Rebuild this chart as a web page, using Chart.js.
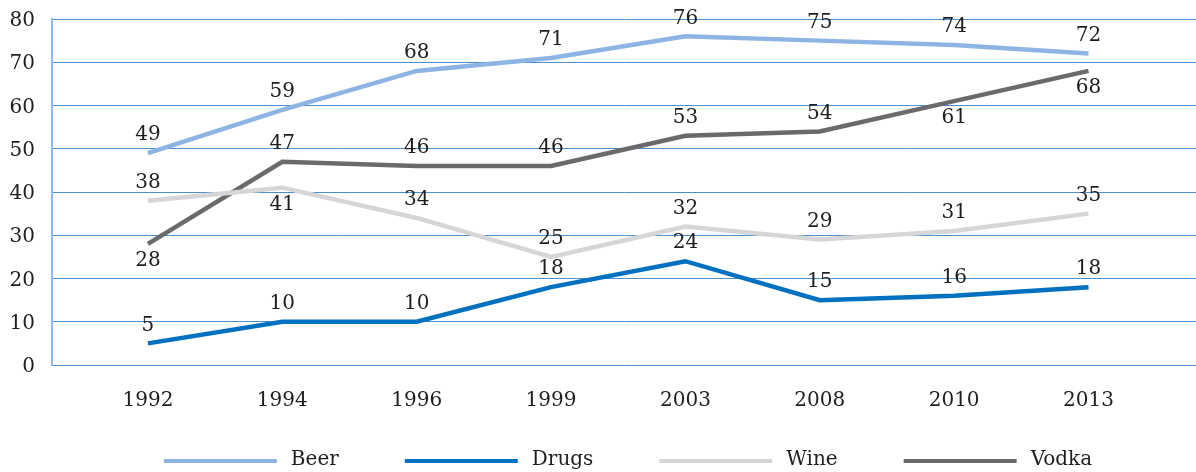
<!DOCTYPE html>
<html>
<head>
<meta charset="utf-8">
<script src="https://cdn.jsdelivr.net/npm/chart.js@4.4.1/dist/chart.umd.min.js"></script>
<style>
  html, body { margin: 0; padding: 0; background: #fff; overflow: hidden; }
  canvas { display: block; }
</style>
</head>
<body>
<canvas id="chart" width="1196" height="472"></canvas>
<script>
const years = ['1992', '1994', '1996', '1999', '2003', '2008', '2010', '2013'];
const beer = [49, 59, 68, 71, 76, 75, 74, 72];
const drugs = [5, 10, 10, 18, 24, 15, 16, 18];
const wine = [38, 41, 34, 25, 32, 29, 31, 35];
const vodka = [28, 47, 46, 46, 53, 54, 61, 68];

// which side of the line each value label sits on
const beerSide = ['up', 'up', 'up', 'up', 'up', 'up', 'up', 'up'];
const drugsSide = ['up', 'up', 'up', 'up', 'up', 'up', 'up', 'up'];
const wineSide = ['up', 'down', 'up', 'up', 'up', 'up', 'up', 'up'];
const vodkaSide = ['down', 'up', 'up', 'up', 'up', 'up', 'down', 'down'];

const FONT = '"DejaVu Serif", "Liberation Serif", serif';
const TEXT = '#1e1e1e';

function series(label, values, color, sides) {
    return {
        label,
        data: values.map((v, i) => ({ x: i, y: v })),
        borderColor: color,
        backgroundColor: color,
        borderWidth: 4.5,
        pointRadius: 0,
        tension: 0,
        sides
    };
}

/* ---------- VALUE LABELS ---------- */
const valueLabels = {
    id: 'valueLabels',
    afterDatasetsDraw(chart) {
        const ctx = chart.ctx;
        ctx.save();
        ctx.font = '20px ' + FONT;
        ctx.fillStyle = TEXT;
        ctx.textAlign = 'center';
        ctx.textBaseline = 'middle';
        chart.data.datasets.forEach((ds, di) => {
            chart.getDatasetMeta(di).data.forEach((pt, i) => {
                const dy = ds.sides[i] === 'down' ? 17 : -18;
                ctx.fillText(String(ds.data[i].y), pt.x, pt.y + dy);
            });
        });
        ctx.restore();
    }
};

/* ---------- LEGEND ---------- */
const bottomLegend = {
    id: 'bottomLegend',
    afterDraw(chart) {
        const ctx = chart.ctx;
        const lineW = 113, gap = 14, itemGap = 66, y = 461;
        ctx.save();
        ctx.font = '20px ' + FONT;
        const items = chart.data.datasets.map(ds => ({
            label: ds.label,
            color: ds.borderColor,
            w: lineW + gap + ctx.measureText(ds.label).width
        }));
        const total = items.reduce((s, it) => s + it.w, 0) + itemGap * (items.length - 1);
        let x = 628 - total / 2;
        items.forEach(it => {
            ctx.fillStyle = it.color;
            ctx.fillRect(x, y - 2, lineW, 4);
            ctx.fillStyle = TEXT;
            ctx.textBaseline = 'alphabetic';
            ctx.fillText(it.label, x + lineW + gap, y + 4);
            x += it.w + itemGap;
        });
        ctx.restore();
    }
};

new Chart(document.getElementById('chart'), {
    type: 'line',
    plugins: [valueLabels, bottomLegend],
    data: {
        datasets: [
            series('Beer', beer, '#8EB4E3', beerSide),
            series('Drugs', drugs, '#0070C0', drugsSide),
            series('Wine', wine, '#D6D6D6', wineSide),
            series('Vodka', vodka, '#6A6A6D', vodkaSide)
        ]
    },
    options: {
        responsive: false,
        animation: false,
        devicePixelRatio: 1,
        layout: { padding: { top: 19, right: 0, bottom: 0, left: 0 } },
        plugins: {
            legend: { display: false },
            tooltip: { enabled: false }
        },
        scales: {
            x: {
                type: 'linear',
                min: -0.714,
                max: 7.8,
                afterFit(scale) {
                    scale.height = 107;
                    scale.paddingLeft = 0;
                    scale.paddingRight = 0;
                },
                afterBuildTicks(scale) {
                    scale.ticks = years.map((_, i) => ({ value: i }));
                },
                grid: { display: false, drawTicks: false, tickLength: 0 },
                border: { display: false },
                ticks: {
                    padding: 24,
                    color: TEXT,
                    font: { family: FONT, size: 20 },
                    maxRotation: 0,
                    autoSkip: false,
                    callback: v => years[v]
                }
            },
            y: {
                min: 0,
                max: 80,
                afterFit(scale) {
                    scale.width = 52;
                    scale.paddingTop = 0;
                    scale.paddingBottom = 0;
                },
                grid: { color: '#4A8FD0', lineWidth: 1, drawTicks: false, tickLength: 0 },
                border: { color: '#8DB9E6', width: 2 },
                ticks: {
                    stepSize: 10,
                    padding: 17,
                    labelOffset: 2,
                    color: TEXT,
                    font: { family: FONT, size: 20 }
                }
            }
        }
    }
});
</script>
</body>
</html>
